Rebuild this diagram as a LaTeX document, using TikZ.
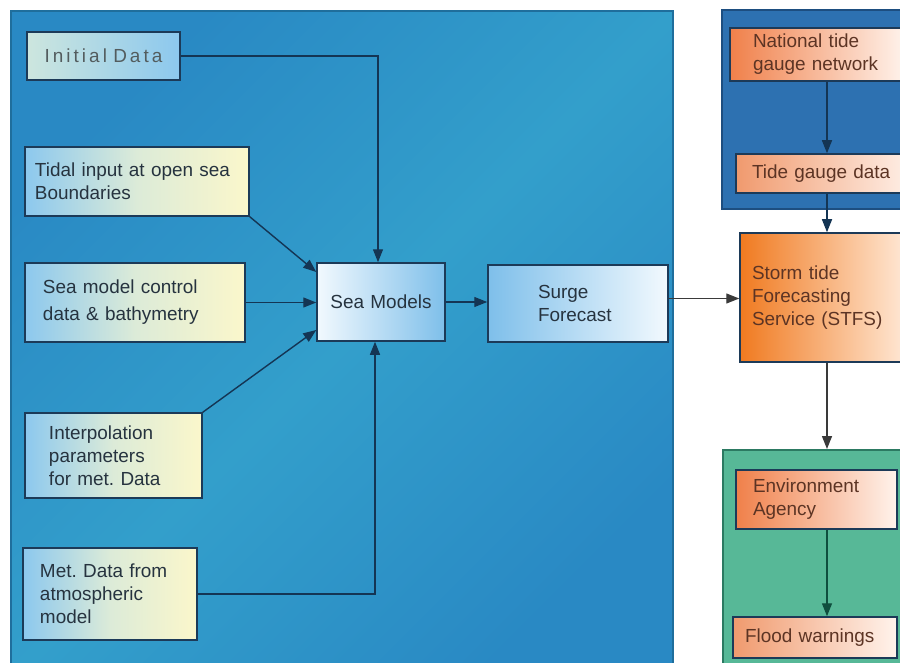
\documentclass[tikz,border=0pt]{standalone}
\usepackage{fontspec}
\setmainfont{Liberation Sans}
\usetikzlibrary{arrows.meta,calc}
\frenchspacing

% panel colours
\definecolor{seaDark}{HTML}{2989C4}
\definecolor{seaLight}{HTML}{339FCB}
\definecolor{seaRim}{HTML}{1F6E9C}
\definecolor{gaugePanel}{HTML}{2D71B1}
\definecolor{gaugeRim}{HTML}{1D4E80}
\definecolor{agencyPanel}{HTML}{57B897}
\definecolor{agencyRim}{HTML}{2C7A62}
% box colours
\definecolor{boxRim}{HTML}{1C3A58}
\definecolor{paleBlue}{HTML}{8CC8EE}
\definecolor{paleYellow}{HTML}{FBF7CB}
\definecolor{paleMint}{HTML}{DCEBD8}
\definecolor{paleCyan}{HTML}{CDE6DE}
\definecolor{iceWhite}{HTML}{F2F9FE}
\definecolor{skyBox}{HTML}{7EBFEA}
\definecolor{tangerine}{HTML}{F07A20}
\definecolor{coral}{HTML}{F0804A}
\definecolor{salmon}{HTML}{F09A6E}
\definecolor{peachWhite}{HTML}{FFF3EC}
% ink
\definecolor{inkBlue}{HTML}{26333F}
\definecolor{inkGrey}{HTML}{535C5E}
\definecolor{inkBrown}{HTML}{5C3424}
\definecolor{wireBlue}{HTML}{143554}
\definecolor{wireGreen}{HTML}{0F4E3E}
\definecolor{wireGrey}{HTML}{3A3A3A}

\begin{document}
\begin{tikzpicture}[x=1bp,y=-1bp,
  font=\fontsize{19}{23}\selectfont,
  panel/.style={rectangle, anchor=north west, inner sep=0pt, line width=1.6bp},
  box/.style={rectangle, draw=boxRim, line width=1.5bp, align=left,
    inner ysep=0pt, anchor=center},
  inputbox/.style={box, left color=paleBlue, right color=paleYellow,
    middle color=paleMint, text=inkBlue},
  orangebox/.style={box, right color=peachWhite, text=inkBrown},
  wire/.style={line width=1.4bp, draw=wireBlue,
    -{Triangle[length=13bp,width=10bp]}},
]
\useasboundingbox (0,0) rectangle (900,663);
\clip (0,0) rectangle (900,663);
\fill[white] (0,0) rectangle (900,663);

% ---- background panels ----
\node[panel, draw=seaRim, top color=seaDark, bottom color=seaDark,
  middle color=seaLight, shading angle=45,
  minimum width=662bp, minimum height=670bp] (seapanel) at (10,10) {};
\node[panel, draw=gaugeRim, fill=gaugePanel,
  minimum width=190bp, minimum height=199bp] (gaugepanel) at (721,9) {};
\node[panel, draw=agencyRim, fill=agencyPanel,
  minimum width=190bp, minimum height=230bp] (agencypanel) at (722,449) {};

% ---- model inputs ----
\node[box, left color=paleCyan, right color=paleBlue, text=inkGrey,
  align=center, minimum width=153bp, minimum height=48bp, text width=140bp,
  inner xsep=6.5bp] (init) at (103.5,56)
  {\addfontfeature{LetterSpace=16}Initial Data};
\node[inputbox, minimum width=224bp, minimum height=69bp,
  inner xsep=10bp, text width=204bp] (tidal) at (137,181.5)
  {Tidal input at open sea\\Boundaries};
\node[inputbox, minimum width=220bp, minimum height=79bp,
  inner xsep=18bp, text width=184bp] (control) at (135,302.5)
  {Sea model control\\[4bp]data \& bathymetry};
\node[inputbox, minimum width=177bp, minimum height=85bp,
  inner xsep=24bp, text width=129bp] (interp) at (113.5,455.5)
  {Interpolation\\parameters\\for met. Data};
\node[inputbox, minimum width=174bp, minimum height=92bp,
  inner xsep=17bp, text width=140bp] (met) at (110,594)
  {Met. Data from\\atmospheric\\model};

% ---- model chain ----
\node[box, left color=iceWhite, right color=skyBox, text=inkBlue,
  align=center, minimum width=128bp, minimum height=78bp,
  text width=118bp, inner xsep=5bp] (sea) at (381,302) {Sea Models};
\node[box, left color=skyBox, right color=iceWhite, text=inkBlue,
  minimum width=180bp, minimum height=77bp,
  inner xsep=50bp, text width=80bp] (surge) at (578,303.5)
  {Surge\\Forecast};

% ---- tide gauge network ----
\node[orangebox, left color=coral, minimum width=175bp, minimum height=53bp,
  inner xsep=23bp, text width=129bp] (national) at (817.5,54.5)
  {National tide\\gauge network};
\node[orangebox, left color=salmon, minimum width=169bp, minimum height=39bp,
  inner xsep=16bp, text width=150bp] (tidedata) at (827,173.5)
  {Tide gauge data};
\node[orangebox, left color=tangerine, right color=peachWhite!90!orange,
  minimum width=165bp, minimum height=129bp,
  inner xsep=12bp, text width=141bp] (stfs) at (822.5,297.5)
  {Storm tide\\Forecasting\\Service (STFS)};

% ---- warnings ----
\node[orangebox, left color=coral, minimum width=161bp, minimum height=59bp,
  inner xsep=17bp, text width=127bp] (ea) at (816.5,499.5)
  {Environment\\Agency};
\node[orangebox, left color=salmon, minimum width=164bp, minimum height=41bp,
  inner xsep=12bp, text width=140bp] (flood) at (815,637.5)
  {Flood warnings};

% ---- connectors ----
\coordinate (spine) at (827,0);
\draw[wire] (init.east) -| ([xshift=-3bp]sea.north);
\draw[wire] (tidal.south east) -- ([yshift=30bp]sea.west);
\draw[wire] (control.east) -- (control.east -| sea.west);
\draw[wire] (interp.north east) -- ([yshift=-28bp]sea.west);
\draw[wire] (met.east) -| ([xshift=-6bp]sea.south);
\draw[wire] (sea.east) -- (sea.east -| surge.west);
\draw[wire, draw=wireGrey] ([yshift=5bp]surge.east) -- ([yshift=5bp]surge.east -| stfs.west);
\draw[wire] (national.south -| spine) -- (tidedata.north -| spine);
\draw[wire] (tidedata.south -| spine) -- (stfs.north -| spine);
\draw[wire, draw=wireGrey] (stfs.south -| spine) -- (agencypanel.north -| spine);
\draw[wire, draw=wireGreen] (ea.south -| spine) -- (flood.north -| spine);
\end{tikzpicture}
\end{document}
